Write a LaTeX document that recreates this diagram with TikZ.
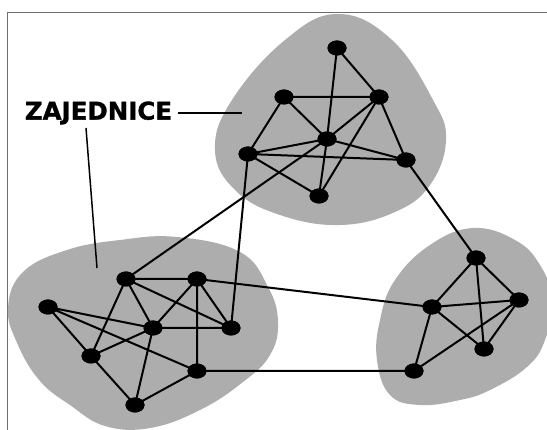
\documentclass[tikz,border=0pt]{standalone}
\usepackage{fontspec}
\setmainfont{DejaVu Sans}
\newfontfamily\lblfont[FakeBold=1.2]{DejaVu Sans Bold}
\usetikzlibrary{shapes.geometric}
\definecolor{blobgray}{RGB}{173,173,173}
\definecolor{framegray}{RGB}{110,110,110}
\tikzset{
  vtx/.style={ellipse, fill=black, draw=none, minimum width=19pt, minimum height=15pt, inner sep=0pt},
  edge/.style={line width=2pt, black},
  blob/.style={fill=blobgray, draw=none},
  leader/.style={line width=1.5pt, black},
}
\begin{document}
\begin{tikzpicture}[x=1pt,y=-1pt]
\useasboundingbox (0,0) rectangle (547,430);
\clip (0,0) rectangle (547,430);
\fill[white] (0,0) rectangle (547,430);
% frame
\draw[framegray, line width=0.8pt] (547,12) -- (7,12) -- (7,431);
% blobs
\fill[blob] plot[smooth cycle, tension=0.7] coordinates {(338,14) (392,40) (433,100) (446,140) (430,185) (395,212) (340,225) (280,215) (235,190) (215,150) (232,100) (285,40)};
\fill[blob] plot[smooth cycle, tension=0.7] coordinates {(177,237) (240,252) (268,287) (278,322) (270,355) (243,382) (200,410) (150,428) (105,426) (70,405) (40,381) (18,345) (8,308) (23,272) (67,250) (120,240)};
\fill[blob] plot[smooth cycle, tension=0.7] coordinates {(473,228) (515,240) (540,265) (552,300) (545,340) (527,367) (490,390) (460,400) (420,405) (390,395) (377,360) (380,320) (395,280) (430,245)};
% label
\node[font=\fontsize{24.5}{28}\lblfont, anchor=center, inner sep=0pt] (lbl) at (98.5,113) {ZAJEDNICE};
\coordinate (lt) at (242,113);
\coordinate (ls) at (178,113);
\coordinate (lbtop) at (86,128);
\coordinate (lb) at (97,268);
\draw[leader] (ls) -- (lt);
\draw[leader] (lbtop) -- (lb);
% nodes top
\node[vtx] (T1) at (337,48) {};
\node[vtx] (T2) at (284,97) {};
\node[vtx] (T3) at (379,97) {};
\node[vtx] (T4) at (327,139) {};
\node[vtx] (T5) at (248,154) {};
\node[vtx] (T6) at (406,160) {};
\node[vtx] (T7) at (319,196) {};
% nodes left
\node[vtx] (L1) at (48,307) {};
\node[vtx] (L2) at (126,279) {};
\node[vtx] (L3) at (197,279) {};
\node[vtx] (L4) at (153,328) {};
\node[vtx] (L5) at (231,328) {};
\node[vtx] (L6) at (91,356) {};
\node[vtx] (L7) at (197,371) {};
\node[vtx] (L8) at (135,405) {};
% nodes right
\node[vtx] (R1) at (476,258) {};
\node[vtx] (R2) at (432,307) {};
\node[vtx] (R3) at (519,300) {};
\node[vtx] (R4) at (484,349) {};
\node[vtx] (R5) at (414,371) {};
% edges
\draw[edge] (T1.center) -- (T3.center) (T1.center) -- (T4.center) (T4.center) -- (T7.center)
  (T2.center) -- (T3.center) (T2.center) -- (T4.center) (T2.center) -- (T5.center)
  (T3.center) -- (T4.center) (T3.center) -- (T7.center) (T3.center) -- (T6.center)
  (T4.center) -- (T5.center) (T4.center) -- (T6.center) (T5.center) -- (T6.center) (T5.center) -- (T7.center);
\draw[edge] (L2.center) -- (L3.center) (L2.center) -- (L4.center) (L2.center) -- (L5.center) (L2.center) -- (L6.center)
  (L3.center) -- (L4.center) (L3.center) -- (L5.center) (L3.center) -- (L7.center)
  (L4.center) -- (L5.center) (L4.center) -- (L1.center) (L4.center) -- (L6.center) (L4.center) -- (L8.center)
  (L1.center) -- (L6.center) (L1.center) -- (L7.center) (L6.center) -- (L8.center) (L8.center) -- (L7.center);
\draw[edge] (R1.center) -- (R2.center) (R1.center) -- (R3.center) (R1.center) -- (R4.center)
  (R2.center) -- (R3.center) (R2.center) -- (R4.center) (R2.center) -- (R5.center)
  (R3.center) -- (R5.center) (R3.center) -- (R4.center);
\draw[edge] (T4.center) -- (L2.center) (T5.center) -- (L5.center) (T6.center) -- (R1.center)
  (L3.center) -- (R2.center) (L7.center) -- (R5.center);
% redraw nodes on top
\foreach \n in {T1,T2,T3,T4,T5,T6,T7,L1,L2,L3,L4,L5,L6,L7,L8,R1,R2,R3,R4,R5}
  \fill[black] (\n.center) ellipse (9.5pt and 7.5pt);
\end{tikzpicture}
\end{document}
